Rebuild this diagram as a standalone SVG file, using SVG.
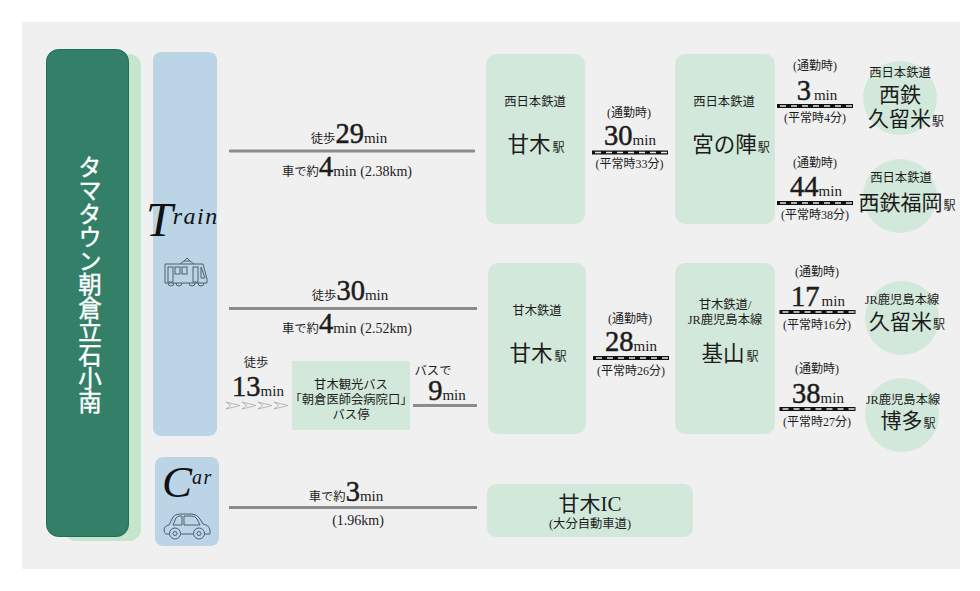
<svg xmlns="http://www.w3.org/2000/svg" width="980" height="591" viewBox="0 0 980 591">
<style>
text{font-family:"Liberation Serif","Noto Sans CJK JP",serif;fill:#1c1c1c;text-anchor:middle}
.k{font-size:12.300px}
.n{font-size:21.500px}
.n2{font-size:21px}
.b{font-size:28.500px;stroke:#1c1c1c;stroke-width:.5px}
.m{font-size:15px}
.u{font-size:14px}
.s{font-size:12px}
.e{font-size:12px}
.lbl{font-size:12.300px}
.gl{stroke:#8c8c8c;stroke-width:3;fill:none}
.box{fill:#d2e8da}
.rb{stroke:#111;stroke-width:4;fill:none}
.rw{stroke:#e8e8e8;stroke-width:1.6;stroke-dasharray:6 5;fill:none}
.ic{fill:none;stroke:#4b6070;stroke-width:1}
.sc{font-style:italic;fill:#111;text-anchor:start}
</style>
<defs>
<path id="chev" d="M0 0L14 3.500L0 7L5 3.500Z" fill="none" stroke="#aaa" stroke-width=".8"/>
<g id="rail"><path class="rb" d="M0 0H76"/><path class="rw" d="M3 0H76"/></g>
</defs>
<rect width="980" height="591" fill="#fff"/>
<rect x="22" y="22" width="938" height="547" fill="#f0f0f0"/>

<g id="title">
<rect x="64" y="54" width="77" height="487" rx="12" fill="#c5e5cd"/>
<rect x="46.500" y="49.500" width="82" height="487" rx="12" fill="#337f68" stroke="#1f6f56"/>
<text x="88" y="155" stroke="#fff" stroke-width=".4" style="writing-mode:vertical-rl;text-anchor:start;font-size:23.500px;fill:#fff">タマタウン朝倉立石小南</text>
</g>
<g id="train">
<rect x="153" y="52" width="64" height="384" rx="8" fill="#bcd5e6"/>
<text class="sc" x="146" y="236"><tspan font-size="48">T</tspan><tspan font-size="24" dy="-12" letter-spacing="1.500">rain</tspan></text>
<g class="ic">
<path d="M165 264H203L207 279V283H165Z"/>
<path d="M180 264L184 261H190L194 264M184 261L187 258L190 261"/>
<rect x="168" y="267" width="5" height="15"/><rect x="175" y="267" width="5" height="7"/><rect x="182" y="267" width="5" height="7"/>
<rect x="193" y="267" width="5" height="15"/><path d="M201 267L205 278H201Z"/>
<path d="M168 283a3 3 0 0 0 6 0M176 283a3 3 0 0 0 6 0M189 283a3 3 0 0 0 6 0M198 283a3 3 0 0 0 6 0"/>
</g>
</g>
<g id="car">
<rect x="155" y="457" width="64" height="89" rx="8" fill="#bcd5e6"/>
<text class="sc" x="162" y="497"><tspan font-size="45">C</tspan><tspan font-size="20" dy="-13" letter-spacing="1.500">ar</tspan></text>
<g class="ic">
<path d="M170 534H166Q164 533 164 530Q164 526 169 525L173 517Q175 514 180 514H192Q197 514 200 519L203 524Q209 525 210 530V534H204M193 534H181"/>
<path d="M173 525L176 518Q177 516 180 516H182V525ZM184 516H192Q195 516 197 519L200 525H184Z"/>
<circle cx="175" cy="533.500" r="5.500"/><circle cx="175" cy="533.500" r="2"/><circle cx="199" cy="533.500" r="5.500"/><circle cx="199" cy="533.500" r="2"/>
</g>
</g>

<g id="connectors">
<path class="gl" d="M229 151H475M229 308.500H477M413 405.500H477M229 507.500H477"/>
<use href="#rail" x="592" y="152.500"/>
<use href="#rail" x="593" y="358"/>
<use href="#rail" x="777" y="106"/>
<use href="#rail" x="777" y="203"/>
<use href="#rail" x="779.500" y="312"/>
<use href="#rail" x="779.500" y="409"/>
<use href="#chev" x="226" y="402"/><use href="#chev" x="242" y="402"/><use href="#chev" x="258" y="402"/><use href="#chev" x="274" y="402"/>
</g>

<g id="walk-labels">
<text x="349" y="143"><tspan class="k">徒歩</tspan><tspan class="b">29</tspan><tspan class="m">min</tspan></text>
<text x="347" y="176"><tspan class="k">車で約</tspan><tspan class="b">4</tspan><tspan class="m">min </tspan><tspan class="u">(2.38km)</tspan></text>
<text x="350" y="300"><tspan class="k">徒歩</tspan><tspan class="b">30</tspan><tspan class="m">min</tspan></text>
<text x="347" y="333"><tspan class="k">車で約</tspan><tspan class="b">4</tspan><tspan class="m">min </tspan><tspan class="u">(2.52km)</tspan></text>
<text class="k" x="256" y="367">徒歩</text>
<text x="258" y="396"><tspan class="b">13</tspan><tspan class="m">min</tspan></text>
<text class="k" x="433" y="375">バスで</text>
<text x="447" y="400"><tspan class="b">9</tspan><tspan class="m">min</tspan></text>
<text x="346" y="501"><tspan class="k">車で約</tspan><tspan class="b">3</tspan><tspan class="m">min</tspan></text>
<text class="u" x="358" y="525">(1.96km)</text>
</g>

<g id="bus-stop">
<rect class="box" x="292" y="361" width="118" height="69"/>
<text class="k" x="351" y="389">甘木観光バス</text>
<text class="k" x="351" y="404">「朝倉医師会病院口」</text>
<text class="k" x="351" y="419">バス停</text>
</g>

<g id="st-amagi1">
<rect class="box" x="486" y="54" width="99" height="170" rx="10"/>
<text class="lbl" x="535" y="106">西日本鉄道</text>
<text x="536" y="152"><tspan class="n">甘木</tspan><tspan class="e" dx="2">駅</tspan></text>
</g>
<g id="st-miyanojin">
<rect class="box" x="675" y="54" width="100" height="170" rx="10"/>
<text class="lbl" x="724" y="106">西日本鉄道</text>
<text x="731" y="152"><tspan class="n">宮の陣</tspan><tspan class="e" dx="1">駅</tspan></text>
</g>
<g id="st-amagi2">
<rect class="box" x="488" y="263" width="98" height="171" rx="10"/>
<text class="lbl" x="537" y="315">甘木鉄道</text>
<text x="538" y="361"><tspan class="n">甘木</tspan><tspan class="e" dx="2">駅</tspan></text>
</g>
<g id="st-kiyama">
<rect class="box" x="675" y="263" width="100" height="171" rx="10"/>
<text class="lbl" x="725" y="309">甘木鉄道/</text>
<text class="lbl" x="725" y="324">JR鹿児島本線</text>
<text x="730" y="361"><tspan class="n">基山</tspan><tspan class="e" dx="2">駅</tspan></text>
</g>
<g id="ic">
<rect class="box" x="487" y="484" width="206" height="53" rx="9"/>
<text class="n2" x="590" y="511">甘木IC</text>
<text class="lbl" x="590" y="528">(大分自動車道)</text>
</g>

<g id="t-30">
<text class="s" x="629" y="117">(通勤時)</text>
<text x="630" y="145"><tspan class="b">30</tspan><tspan class="m">min</tspan></text>
<text class="s" x="629.500" y="168">(平常時33分)</text>
</g>
<g id="t-28">
<text class="s" x="630" y="323">(通勤時)</text>
<text x="631" y="351"><tspan class="b">28</tspan><tspan class="m">min</tspan></text>
<text class="s" x="631" y="375">(平常時26分)</text>
</g>
<g id="t-3">
<text class="s" x="815" y="70">(通勤時)</text>
<text x="817" y="100"><tspan class="b">3</tspan><tspan class="m" dx="3">min</tspan></text>
<text class="s" x="815" y="122">(平常時4分)</text>
</g>
<g id="t-44">
<text class="s" x="815" y="167">(通勤時)</text>
<text x="816" y="196"><tspan class="b">44</tspan><tspan class="m">min</tspan></text>
<text class="s" x="815" y="219">(平常時38分)</text>
</g>
<g id="t-17">
<text class="s" x="817" y="276">(通勤時)</text>
<text x="818" y="306"><tspan class="b">17</tspan><tspan class="m" dx="2">min</tspan></text>
<text class="s" x="817" y="329">(平常時16分)</text>
</g>
<g id="t-38">
<text class="s" x="817" y="373">(通勤時)</text>
<text x="818" y="403"><tspan class="b">38</tspan><tspan class="m">min</tspan></text>
<text class="s" x="817" y="426">(平常時27分)</text>
</g>

<g id="dest-kurume1">
<circle class="box" cx="900" cy="98" r="37"/>
<text class="lbl" x="900" y="77">西日本鉄道</text>
<text class="n2" x="900" y="102">西鉄</text>
<text x="906" y="126"><tspan class="n2">久留米</tspan><tspan class="e" dx="1">駅</tspan></text>
</g>
<g id="dest-fukuoka">
<circle class="box" cx="900" cy="196" r="37"/>
<text class="lbl" x="901" y="182">西日本鉄道</text>
<text x="907" y="210"><tspan class="n2">西鉄福岡</tspan><tspan class="e" dx="1">駅</tspan></text>
</g>
<g id="dest-kurume2">
<circle class="box" cx="902" cy="318" r="37"/>
<text class="lbl" x="902" y="304">JR鹿児島本線</text>
<text x="907" y="329"><tspan class="n2">久留米</tspan><tspan class="e" dx="1">駅</tspan></text>
</g>
<g id="dest-hakata">
<circle class="box" cx="902" cy="415" r="37"/>
<text class="lbl" x="903" y="404">JR鹿児島本線</text>
<text x="908" y="428"><tspan class="n2">博多</tspan><tspan class="e" dx="1">駅</tspan></text>
</g>
</svg>
